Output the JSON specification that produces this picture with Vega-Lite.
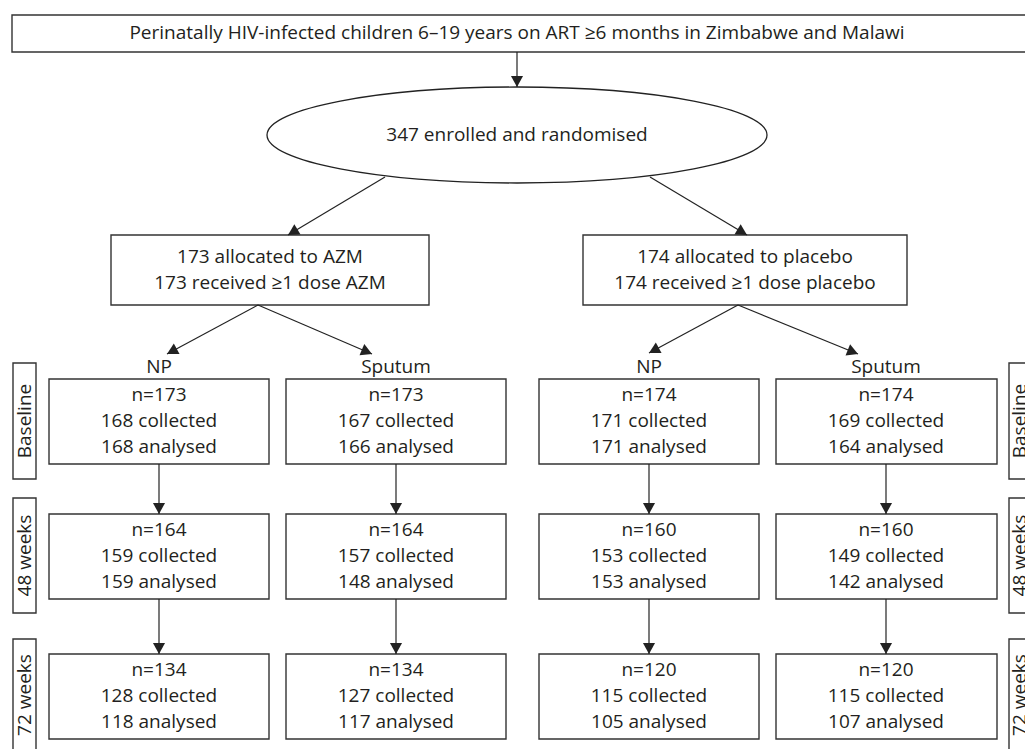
{
  "$schema": "https://vega.github.io/schema/vega-lite/v6.json",
  "width": 1025,
  "height": 749,
  "autosize": {"type": "none"},
  "padding": 0,
  "background": "white",
  "config": {"view": {"stroke": null}},
  "datasets": {
    "boxes": [
      {"name": "top", "x": 12, "x2": 1045, "y": 15, "y2": 52},
      {"name": "azm", "x": 111, "x2": 429, "y": 235, "y2": 305},
      {"name": "placebo", "x": 583, "x2": 907, "y": 235, "y2": 305},
      {"name": "c1r1", "x": 49, "x2": 269, "y": 379, "y2": 464},
      {"name": "c2r1", "x": 286, "x2": 506, "y": 379, "y2": 464},
      {"name": "c3r1", "x": 539, "x2": 759, "y": 379, "y2": 464},
      {"name": "c4r1", "x": 776, "x2": 997, "y": 379, "y2": 464},
      {"name": "c1r2", "x": 49, "x2": 269, "y": 514, "y2": 599},
      {"name": "c2r2", "x": 286, "x2": 506, "y": 514, "y2": 599},
      {"name": "c3r2", "x": 539, "x2": 759, "y": 514, "y2": 599},
      {"name": "c4r2", "x": 776, "x2": 997, "y": 514, "y2": 599},
      {"name": "c1r3", "x": 49, "x2": 269, "y": 654, "y2": 739},
      {"name": "c2r3", "x": 286, "x2": 506, "y": 654, "y2": 739},
      {"name": "c3r3", "x": 539, "x2": 759, "y": 654, "y2": 739},
      {"name": "c4r3", "x": 776, "x2": 997, "y": 654, "y2": 739},
      {"name": "sideL1", "x": 13, "x2": 36, "y": 363, "y2": 479},
      {"name": "sideL2", "x": 13, "x2": 36, "y": 498, "y2": 613},
      {"name": "sideL3", "x": 13, "x2": 36, "y": 639, "y2": 765},
      {"name": "sideR1", "x": 1009, "x2": 1040, "y": 363, "y2": 479},
      {"name": "sideR2", "x": 1009, "x2": 1040, "y": 498, "y2": 613},
      {"name": "sideR3", "x": 1009, "x2": 1040, "y": 639, "y2": 765}
    ],
    "ellipses": [
      {"name": "enrolled", "x": 517, "y": 135}
    ],
    "arrows": [
      {"x": 517, "y": 52, "x2": 517, "y2": 87},
      {"x": 385, "y": 177, "x2": 288, "y2": 235},
      {"x": 650, "y": 177, "x2": 747, "y2": 235},
      {"x": 258, "y": 305, "x2": 167, "y2": 354},
      {"x": 258, "y": 305, "x2": 372, "y2": 354},
      {"x": 738, "y": 305, "x2": 649, "y2": 353},
      {"x": 738, "y": 305, "x2": 858, "y2": 354},
      {"x": 159, "y": 464, "x2": 159, "y2": 514},
      {"x": 396, "y": 464, "x2": 396, "y2": 514},
      {"x": 649, "y": 464, "x2": 649, "y2": 514},
      {"x": 886, "y": 464, "x2": 886, "y2": 514},
      {"x": 159, "y": 599, "x2": 159, "y2": 654},
      {"x": 396, "y": 599, "x2": 396, "y2": 654},
      {"x": 649, "y": 599, "x2": 649, "y2": 654},
      {"x": 886, "y": 599, "x2": 886, "y2": 654}
    ],
    "texts": [
      {"label": "Perinatally HIV-infected children 6–19 years on ART ≥6 months in Zimbabwe and Malawi", "x": 517, "y": 33},
      {"label": "347 enrolled and randomised", "x": 517, "y": 135},
      {"label": "173 allocated to AZM", "x": 270, "y": 257},
      {"label": "173 received ≥1 dose AZM", "x": 270, "y": 283},
      {"label": "174 allocated to placebo", "x": 745, "y": 257},
      {"label": "174 received ≥1 dose placebo", "x": 745, "y": 283},
      {"label": "NP", "x": 159, "y": 367},
      {"label": "Sputum", "x": 396, "y": 367},
      {"label": "NP", "x": 649, "y": 367},
      {"label": "Sputum", "x": 886, "y": 367},
      {"label": "n=173", "x": 159, "y": 395},
      {"label": "168 collected", "x": 159, "y": 421},
      {"label": "168 analysed", "x": 159, "y": 447},
      {"label": "n=173", "x": 396, "y": 395},
      {"label": "167 collected", "x": 396, "y": 421},
      {"label": "166 analysed", "x": 396, "y": 447},
      {"label": "n=174", "x": 649, "y": 395},
      {"label": "171 collected", "x": 649, "y": 421},
      {"label": "171 analysed", "x": 649, "y": 447},
      {"label": "n=174", "x": 886, "y": 395},
      {"label": "169 collected", "x": 886, "y": 421},
      {"label": "164 analysed", "x": 886, "y": 447},
      {"label": "n=164", "x": 159, "y": 530},
      {"label": "159 collected", "x": 159, "y": 556},
      {"label": "159 analysed", "x": 159, "y": 582},
      {"label": "n=164", "x": 396, "y": 530},
      {"label": "157 collected", "x": 396, "y": 556},
      {"label": "148 analysed", "x": 396, "y": 582},
      {"label": "n=160", "x": 649, "y": 530},
      {"label": "153 collected", "x": 649, "y": 556},
      {"label": "153 analysed", "x": 649, "y": 582},
      {"label": "n=160", "x": 886, "y": 530},
      {"label": "149 collected", "x": 886, "y": 556},
      {"label": "142 analysed", "x": 886, "y": 582},
      {"label": "n=134", "x": 159, "y": 670},
      {"label": "128 collected", "x": 159, "y": 696},
      {"label": "118 analysed", "x": 159, "y": 722},
      {"label": "n=134", "x": 396, "y": 670},
      {"label": "127 collected", "x": 396, "y": 696},
      {"label": "117 analysed", "x": 396, "y": 722},
      {"label": "n=120", "x": 649, "y": 670},
      {"label": "115 collected", "x": 649, "y": 696},
      {"label": "105 analysed", "x": 649, "y": 722},
      {"label": "n=120", "x": 886, "y": 670},
      {"label": "115 collected", "x": 886, "y": 696},
      {"label": "107 analysed", "x": 886, "y": 722}
    ],
    "sides": [
      {"label": "Baseline", "x": 24.5, "y": 421},
      {"label": "48 weeks", "x": 24.5, "y": 555.5},
      {"label": "72 weeks", "x": 24.5, "y": 695},
      {"label": "Baseline", "x": 1020, "y": 421},
      {"label": "48 weeks", "x": 1020, "y": 555.5},
      {"label": "72 weeks", "x": 1020, "y": 695}
    ]
  },
  "layer": [
    {
      "data": {"name": "boxes"},
      "mark": {"type": "rect", "fill": "white", "stroke": "#333333", "strokeWidth": 1.4},
      "encoding": {
        "x": {"field": "x", "type": "quantitative", "scale": {"domain": [0, 1025], "nice": false, "zero": false}, "axis": null},
        "x2": {"field": "x2"},
        "y": {"field": "y", "type": "quantitative", "scale": {"domain": [0, 749], "nice": false, "zero": false, "reverse": true}, "axis": null},
        "y2": {"field": "y2"}
      }
    },
    {
      "data": {"name": "ellipses"},
      "mark": {"type": "point", "filled": false, "stroke": "#222222", "strokeWidth": 1.3, "opacity": 1, "size": 250000,
        "shape": "M-1,0C-1,-0.106 -0.552,-0.192 0,-0.192C0.552,-0.192 1,-0.106 1,0C1,0.106 0.552,0.192 0,0.192C-0.552,0.192 -1,0.106 -1,0Z"},
      "encoding": {
        "x": {"field": "x", "type": "quantitative"},
        "y": {"field": "y", "type": "quantitative"}
      }
    },
    {
      "data": {"name": "arrows"},
      "mark": {"type": "rule", "stroke": "#222222", "strokeWidth": 1.2},
      "encoding": {
        "x": {"field": "x", "type": "quantitative"},
        "y": {"field": "y", "type": "quantitative"},
        "x2": {"field": "x2"},
        "y2": {"field": "y2"}
      }
    },
    {
      "data": {"name": "arrows"},
      "transform": [
        {"calculate": "atan2(-(datum.x2 - datum.x), datum.y2 - datum.y) * 180 / PI", "as": "ang"}
      ],
      "mark": {"type": "point", "filled": true, "color": "#222222", "opacity": 1, "size": 484, "strokeWidth": 0,
        "shape": "M0,0L-0.55,-1L0.55,-1Z"},
      "encoding": {
        "x": {"field": "x2", "type": "quantitative"},
        "y": {"field": "y2", "type": "quantitative"},
        "angle": {"field": "ang", "type": "quantitative", "scale": null}
      }
    },
    {
      "data": {"name": "texts"},
      "mark": {"type": "text", "font": "Open Sans", "fontSize": 19, "color": "#231f20", "align": "center", "baseline": "middle"},
      "encoding": {
        "x": {"field": "x", "type": "quantitative"},
        "y": {"field": "y", "type": "quantitative"},
        "text": {"field": "label"}
      }
    },
    {
      "data": {"name": "sides"},
      "mark": {"type": "text", "font": "Open Sans", "fontSize": 19, "color": "#231f20", "align": "center", "baseline": "middle", "angle": 270},
      "encoding": {
        "x": {"field": "x", "type": "quantitative"},
        "y": {"field": "y", "type": "quantitative"},
        "text": {"field": "label"}
      }
    }
  ]
}
